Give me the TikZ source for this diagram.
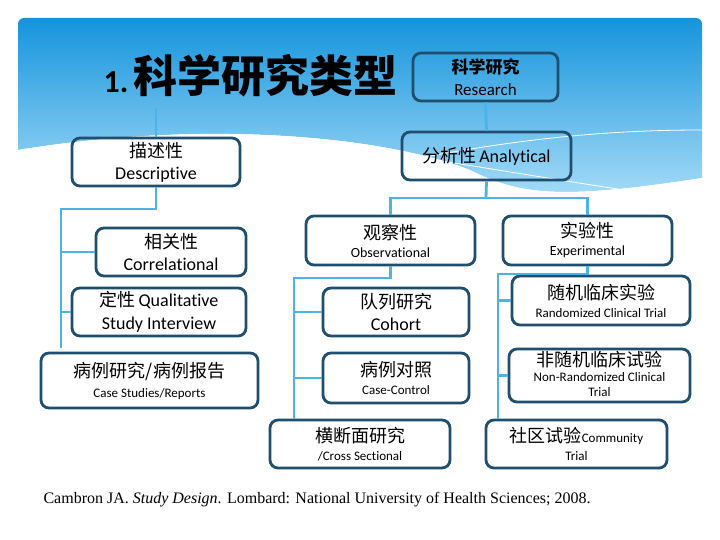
\documentclass[tikz,border=0pt]{standalone}
\usepackage{fontspec}
\setmainfont{Carlito}[Ligatures=CommonOff]
\newfontfamily\cjk{Noto Sans CJK SC}
\newfontfamily\citefont{Liberation Serif}
\begin{document}
\begin{tikzpicture}[x=1pt,y=-1pt,
  bx/.style={draw=boxc,line width=2.8pt,rounded corners=8pt,inner sep=0pt},
  ln/.style={draw=linec,line width=2.8pt},
  tx/.style={align=center,font=\fontsize{17}{22}\selectfont}]
\definecolor{boxc}{HTML}{1F4E6E}
\definecolor{linec}{HTML}{4AB4E8}
\definecolor{topb}{HTML}{1594DC}
\definecolor{lowb}{HTML}{A8DDF8}
\useasboundingbox (0,0) rectangle (720,540);
\fill[white] (0,0) rectangle (720,540);
% banner
\shade[top color=topb,bottom color=lowb,rounded corners=6pt]
  (18,200) -- (18,18) -- (702,18) -- (702,178) [sharp corners] -- (702,178)
  .. controls (560,200) and (520,195) .. (470,170)
  .. controls (380,135) and (200,120) .. (18,150) -- cycle;
\fill[white] (18,150) .. controls (200,120) and (380,135) .. (470,170)
  .. controls (520,195) and (560,200) .. (702,178) -- (702,205) -- (18,205) -- cycle;
\draw[white,line width=0.8pt] (250,135) .. controls (400,150) and (600,190) .. (702,200);
\draw[white,line width=0.8pt] (360,170) .. controls (500,140) and (600,130) .. (702,130);
% title
\node[anchor=west,font=\bfseries\fontsize{32}{34}\selectfont] (title) at (100,76)
  {1.\,{\cjk\bfseries\fontsize{44}{46}\selectfont 科学研究类型}};
% boxes
\node[bx,minimum width=145pt,minimum height=48pt] (res) at (485.5,77) {};
\node[tx] (rest) at (res) {{\cjk\bfseries\fontsize{17}{19}\selectfont 科学研究}\\{\fontsize{17}{19}\selectfont Research}};
\node[bx,minimum width=168pt,minimum height=48pt] (desc) at (156,162) {};
\node[tx] (desct) at (desc) {{\cjk\fontsize{18}{20}\selectfont 描述性}\\{\fontsize{18}{20}\selectfont Descriptive}};
\node[bx,minimum width=169pt,minimum height=48pt] (ana) at (486.5,156) {};
\node[tx] (anat) at (ana) {{\cjk\fontsize{18}{20}\selectfont 分析性}\,{\fontsize{18}{20}\selectfont Analytical}};
\node[bx,minimum width=150pt,minimum height=48pt] (cor) at (171,252) {};
\node[tx] (cort) at (cor) {{\cjk\fontsize{18}{20}\selectfont 相关性}\\{\fontsize{18}{20}\selectfont Correlational}};
\node[bx,minimum width=169pt,minimum height=49pt] (obs) at (390.5,240.5) {};
\node[tx] (obst) at (obs) {{\cjk\fontsize{18}{20}\selectfont 观察性}\\[-4pt]{\fontsize{14}{16}\selectfont Observational}};
\node[bx,minimum width=169pt,minimum height=49pt] (exp) at (587.5,240.5) {};
\node[tx] (expt) at (exp) {{\cjk\fontsize{18}{20}\selectfont 实验性}\\[-4pt]{\fontsize{14}{16}\selectfont Experimental}};
\node[bx,minimum width=174pt,minimum height=48pt] (qual) at (159,312) {};
\node[tx,font=\fontsize{18}{23}\selectfont] (qualt) at (qual) {{\cjk 定性}\,Qualitative\\Study Interview};
\node[bx,minimum width=217pt,minimum height=55pt] (case) at (149.5,380.5) {};
\node[tx] (caset) at (case) {{\cjk\fontsize{18}{20}\selectfont 病例研究/病例报告}\\[-2pt]{\fontsize{13}{15}\selectfont Case Studies/Reports}};
\node[bx,minimum width=146pt,minimum height=48pt] (coh) at (396,312) {};
\node[tx] (coht) at (coh) {{\cjk\fontsize{18}{20}\selectfont 队列研究}\\{\fontsize{18}{20}\selectfont Cohort}};
\node[bx,minimum width=146pt,minimum height=50pt] (cc) at (396,378) {};
\node[tx] (cct) at (cc) {{\cjk\fontsize{18}{20}\selectfont 病例对照}\\[-4pt]{\fontsize{13}{15}\selectfont Case-Control}};
\node[bx,minimum width=180pt,minimum height=48pt] (cs) at (360,444) {};
\node[tx] (cst) at (cs) {{\cjk\fontsize{18}{20}\selectfont 横断面研究}\\[-4pt]{\fontsize{13}{15}\selectfont /Cross Sectional}};
\node[bx,minimum width=178pt,minimum height=49pt] (rct) at (601,300.5) {};
\node[tx] (rctt) at (rct) {{\cjk\fontsize{18}{20}\selectfont 随机临床实验}\\[-4pt]{\fontsize{13}{15}\selectfont Randomized Clinical Trial}};
\node[bx,minimum width=181pt,minimum height=53pt] (nrct) at (599.5,375.5) {};
\node[tx,font=\fontsize{13}{15}\selectfont] (nrctt) at (599.5,374) {{\cjk\fontsize{18}{20}\selectfont 非随机临床试验}\\[0pt]Non-Randomized Clinical\\Trial};
\node[bx,minimum width=181pt,minimum height=48pt] (com) at (576.5,444) {};
\node[tx] (comt) at (com) {{\cjk\fontsize{18}{20}\selectfont 社区试验}{\fontsize{13}{15}\selectfont Community}\\[-4pt]{\fontsize{13}{15}\selectfont Trial}};
% connectors
\coordinate (dtop) at (156,108);
\coordinate (lend) at (61,348);
\coordinate (ltop) at (61,209);
\coordinate (otop) at (294,278);
\coordinate (etop) at (498,274);
\draw[ln] (res.south) -- (ana.north);
\draw[ln] (dtop) -- (desc.north);
\draw[ln] (desc.south) |- (ltop) -- (lend);
\draw[ln] (cor.west) -- (61,252);
\draw[ln] (qual.west) -- (61,312);
\draw[ln] (ana.south) -- (486,198);
\draw[ln] (obs.north) |- (exp.north |- 0,198) -- (exp.north);
\draw[ln] (obs.south) |- (otop) -- (cs.north -| otop);
\draw[ln] (coh.west) -- (coh.west -| otop);
\draw[ln] (cc.west) -- (cc.west -| otop);
\draw[ln] (exp.south) |- (etop) -- (com.north -| etop);
\draw[ln] (rct.west) -- (rct.west -| etop);
\draw[ln] (nrct.west) -- (nrct.west -| etop);
% citation
\node[anchor=west,font=\citefont\fontsize{16}{18}\selectfont] (cite) at (40,500)
  {Cambron JA. \textit{Study Design}. Lombard: National University of Health Sciences; 2008.};
\end{tikzpicture}
\end{document}
